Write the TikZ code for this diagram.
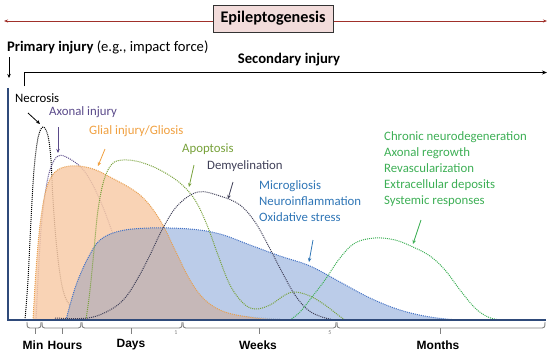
\documentclass[tikz,border=0pt]{standalone}
\usepackage{fontspec}
\setmainfont{Carlito}
\newfontfamily\arialfont{Liberation Sans}
\usetikzlibrary{arrows.meta}
\definecolor{epired}{HTML}{A0302A}
\definecolor{epibox}{HTML}{F2DCDB}
\definecolor{axiscol}{HTML}{2F4A7A}
\definecolor{axoncol}{HTML}{5A4A8A}
\definecolor{glialtxt}{HTML}{F0A040}
\definecolor{glialfill}{HTML}{F8CBA8}
\definecolor{glialline}{HTML}{E8A050}
\definecolor{apocol}{HTML}{77A13A}
\definecolor{demycol}{HTML}{404058}
\definecolor{microcol}{HTML}{2E75B6}
\definecolor{microfill}{HTML}{B4C7E7}
\definecolor{microline}{HTML}{4472C4}
\definecolor{overlapfill}{HTML}{C6B8B8}
\definecolor{chroncol}{HTML}{3DAF55}
\definecolor{bracecol}{HTML}{808080}
\tikzset{
  lbl/.style={inner sep=0pt, font=\fontsize{12.8}{15}\selectfont},
  listlbl/.style={inner sep=0pt, align=left, font=\fontsize{12.8}{16}\selectfont},
  curve/.style={line width=1pt, dash pattern=on 1pt off 1pt},
  ptr/.style={-{Stealth[length=4pt,width=3.5pt]}, line width=0.8pt},
  timebrace/.style={draw=bracecol, line width=0.9pt},
  timelbl/.style={inner sep=0pt, font=\arialfont\bfseries\fontsize{12}{14}\selectfont},
}
\begin{document}
\begin{tikzpicture}[x=1pt,y=-1pt]
\useasboundingbox (0,0) rectangle (550,357);
% Epileptogenesis
\coordinate (epiL) at (4,21);
\coordinate (epiR) at (547,21);
\draw[epired, line width=0.8pt, {Stealth[length=4pt,width=3pt]}-{Stealth[length=4pt,width=3pt]}] (epiL) -- (epiR);
\node[draw=black!80, fill=epibox, line width=0.9pt, minimum width=120pt, minimum height=27pt, inner sep=0pt, font=\bfseries\fontsize{16.2}{18}\selectfont] (epi) at (273,18.5) {Epileptogenesis};
% Primary / secondary injury
\node[anchor=west, inner sep=0pt, font=\fontsize{14.6}{16}\selectfont] (prim) at (7,47) {\textbf{Primary injury} (e.g., impact force)};
\coordinate (primA) at (9,57);
\coordinate (primB) at (9,78);
\draw[ptr, line width=0.6pt] (primA) -- (primB);
\node[inner sep=0pt, font=\bfseries\fontsize{14.7}{16}\selectfont] (sec) at (289,60) {Secondary injury};
\coordinate (secA) at (24,86);
\coordinate (secB) at (24,72.5);
\coordinate (secC) at (547,72.5);
\draw[line width=1pt, -{Stealth[length=5pt,width=4pt]}] (secA) -- (secB) -- (secC);
% axes
\coordinate (orgTop) at (8,88);
\coordinate (org) at (8,320);
\coordinate (axEnd) at (546,320);
% Necrosis and axonal injury (behind fills)
\draw[curve, black] plot[smooth, tension=0.6] coordinates {(25,320) (28,280) (31,220) (34,170) (38,138) (43,127) (48,136) (51,160) (53,200) (57,250) (63,290) (72,307) (88,310) (110,304) (133,302) (165,306) (200,311) (250,317) (280,319)};
\draw[curve, axoncol] plot[smooth, tension=0.6] coordinates {(36,320) (38,280) (41,230) (45,195) (50,170) (58,156) (70,159) (85,172) (100,200) (115,240) (128,280) (140,300) (160,310) (200,316) (240,319)};
% Glial and microgliosis fills
\def\glialpath{plot[smooth, tension=0.6] coordinates {(33,320) (36,270) (40,225) (46,190) (55,172) (70,166) (90,168) (110,177) (140,195) (160,220) (175,250) (190,280) (205,300) (225,312) (255,318) (280,320)}}
\def\micropath{plot[smooth, tension=0.6] coordinates {(66,320) (72,298) (78,280) (88,258) (100,240) (120,231) (150,228) (190,229) (220,234) (250,245) (280,256) (310,266) (340,282) (370,298) (400,310) (430,317) (458,320)}}
\fill[glialfill, fill opacity=0.85] \glialpath -- cycle;
\fill[microfill, fill opacity=0.9] \micropath -- cycle;
\begin{scope}
\clip \glialpath -- cycle;
\fill[overlapfill] \micropath -- cycle;
\end{scope}
\draw[curve, glialline] \glialpath;
\draw[curve, microline] \micropath;
% Apoptosis
\draw[curve, apocol] plot[smooth, tension=0.6] coordinates {(86,320) (90,290) (94,250) (98,210) (104,180) (112,164) (123,160) (140,162) (160,170) (180,183) (195,200) (207,225) (218,255) (230,285) (243,303) (255,309) (270,305) (285,295) (295,292) (310,296) (325,305) (338,315) (345,320)};
% Demyelination
\draw[curve, demycol] plot[smooth, tension=0.6] coordinates {(55,318) (88,318) (110,310) (125,298) (138,278) (150,255) (163,228) (178,205) (198,192) (220,196) (240,205) (255,222) (268,245) (282,272) (295,295) (308,310) (322,317) (335,320)};
% Chronic
\draw[curve, chroncol] plot[smooth, tension=0.6] coordinates {(290,320) (300,312) (312,297) (325,280) (340,258) (355,243) (375,238) (395,240) (413,247) (430,256) (445,270) (460,290) (475,308) (488,317) (500,320)};
% axes on top
\draw[axiscol, line width=1.3pt] (orgTop) -- (org) -- (axEnd);
% labels
\node[lbl, anchor=west] (necl) at (15,98) {Necrosis};
\coordinate (necA) at (28,113);
\coordinate (necB) at (40,124);
\draw[ptr, black] (necA) -- (necB);
\node[lbl, anchor=west, text=axoncol] (axl) at (49,112) {Axonal injury};
\coordinate (axA) at (58,127);
\coordinate (axB) at (58,153);
\draw[ptr, axoncol] (axA) -- (axB);
\node[lbl, anchor=west, text=glialtxt] (gll) at (89,131) {Glial injury/Gliosis};
\coordinate (glA) at (105,149);
\coordinate (glB) at (98,166);
\draw[ptr, glialtxt] (glA) -- (glB);
\node[lbl, anchor=west, text=apocol] (apl) at (182,149) {Apoptosis};
\coordinate (apA) at (194,165);
\coordinate (apB) at (189,187);
\draw[ptr, apocol] (apA) -- (apB);
\node[lbl, anchor=west, text=demycol] (del) at (207,166) {Demyelination};
\coordinate (deA) at (233,182);
\coordinate (deB) at (228,199);
\draw[ptr, demycol] (deA) -- (deB);
\node[listlbl, anchor=north west, text=microcol] (mil) at (259,180) {Microgliosis\\Neuroinflammation\\Oxidative stress};
\coordinate (miA) at (313,240);
\coordinate (miB) at (309,262);
\draw[ptr, microcol] (miA) -- (miB);
\node[listlbl, anchor=north west, text=chroncol] (chl) at (384,131) {Chronic neurodegeneration\\Axonal regrowth\\Revascularization\\Extracellular deposits\\Systemic responses};
\coordinate (chA) at (421,220);
\coordinate (chB) at (413,244);
\draw[ptr, chroncol] (chA) -- (chB);
% time braces
\foreach \xa/\xb/\xm in {27/41/35, 42/81/62, 82/182/131, 183/336/259, 337/545/440} {
  \draw[timebrace] (\xa,322) .. controls (\xa,327) and (\xa+0.5,328) .. (\xa+2.5,328) -- (\xb-2.5,328) .. controls (\xb-0.5,328) and (\xb,327) .. (\xb,322);
  \draw[timebrace] (\xm,328) -- (\xm,334);
}
\node[inner sep=0pt, font=\fontsize{6}{7}\selectfont, text=bracecol] (one) at (176,333) {1};
\node[inner sep=0pt, font=\fontsize{6}{7}\selectfont, text=bracecol] (five) at (330,333) {5};
\node[timelbl] (tmin) at (33,345) {Min};
\node[timelbl] (thr) at (65,345) {Hours};
\node[timelbl] (tday) at (131,345) {Days};
\node[timelbl] (twk) at (258,345) {Weeks};
\node[timelbl] (tmo) at (438,345) {Months};
\end{tikzpicture}
\end{document}
